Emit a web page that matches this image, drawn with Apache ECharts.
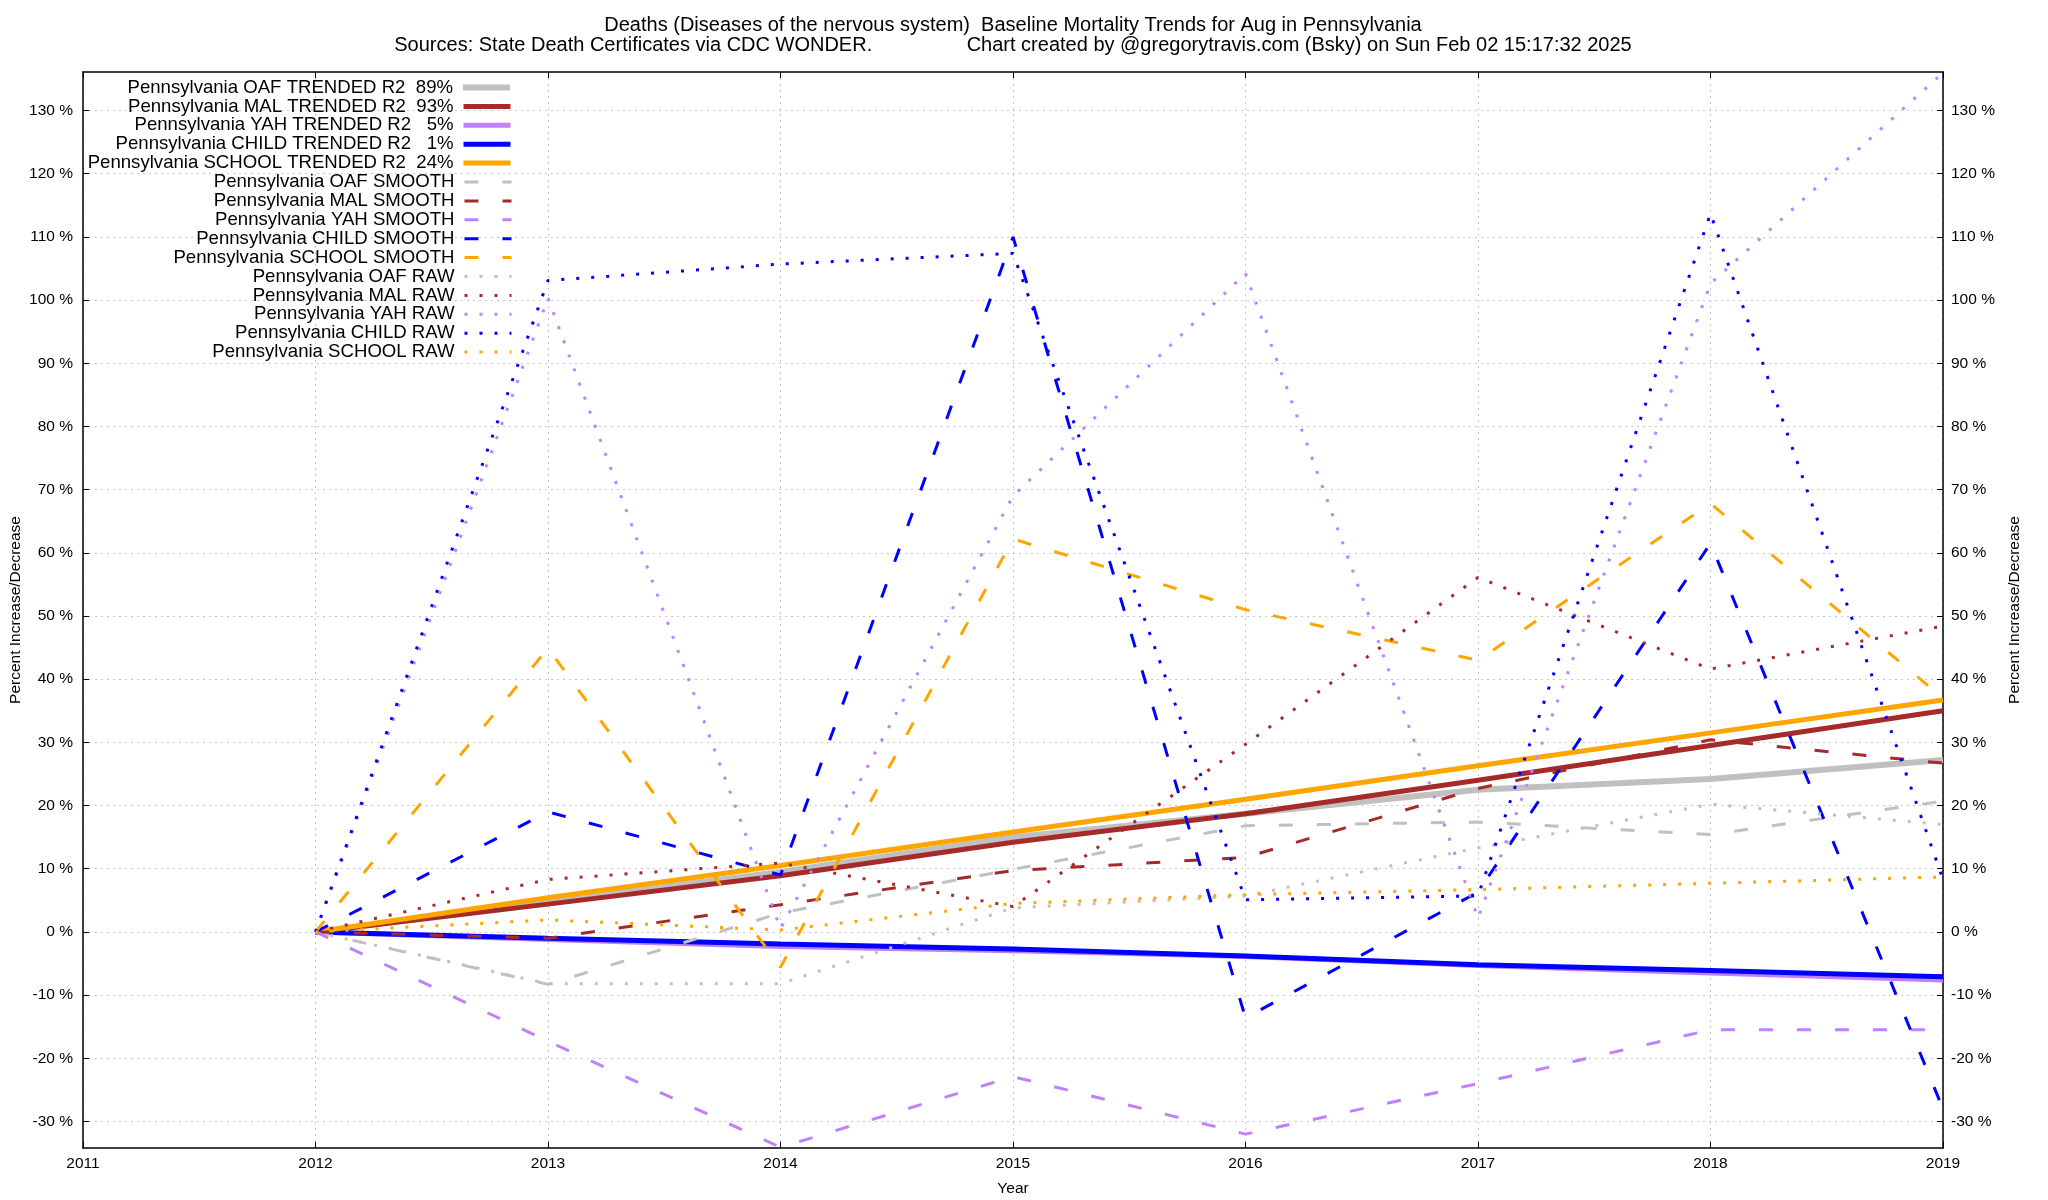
<!DOCTYPE html>
<html>
<head>
<meta charset="utf-8">
<script src="https://cdn.jsdelivr.net/npm/echarts@6/dist/echarts.min.js"></script>
<style>
html,body{margin:0;padding:0;background:#fff;}
#chart{width:2048px;height:1200px;}
</style>
</head>
<body>
<div id="chart"></div>
<script>
var years = [2012, 2013, 2014, 2015, 2016, 2017, 2018, 2019];
var yTicks = [-30, -20, -10, 0, 10, 20, 30, 40, 50, 60, 70, 80, 90, 100, 110, 120, 130];

var oafTrended    = [0, 4.8, 9.5, 15.0, 18.7, 22.5, 24.2, 27.2];
var malTrended    = [0, 4.4, 8.9, 14.2, 18.7, 24.0, 29.5, 35.0];
var yahTrended    = [0, -1.2, -2.3, -3.0, -3.9, -5.3, -6.5, -7.6];
var childTrended  = [0, -1.0, -1.9, -2.7, -3.8, -5.2, -6.1, -7.1];
var schoolTrended = [0, 5.4, 10.5, 15.8, 21.0, 26.3, 31.5, 36.7];

var oafSmooth    = [0, -8.3, 3.0, 9.9, 16.8, 17.4, 15.4, 20.7];
var malSmooth    = [0, -1.0, 4.3, 9.7, 11.8, 22.7, 30.4, 26.7];
var yahSmooth    = [0, -17.3, -34.1, -22.9, -32.0, -24.0, -15.5, -15.5];
var childSmooth  = [0, 19.0, 9.0, 110.0, -13.6, 6.3, 61.5, -28.0];
var schoolSmooth = [0, 44.9, -5.6, 62.2, 51.0, 43.0, 67.8, 37.0];

var oafRaw    = [0, -8.2, -8.2, 3.8, 5.7, 13.3, 20.2, 17.0];
var malRaw    = [0, 8.3, 10.9, 4.0, 29.7, 56.1, 41.6, 48.4];
var yahRaw    = [0, 100.3, 0.5, 69.0, 104.2, 2.2, 102.6, 136.0];
var childRaw  = [0, 103.1, 105.7, 107.4, 5.1, 5.7, 113.7, 8.3];
var schoolRaw = [0, 1.9, 0.3, 4.5, 5.9, 6.7, 7.7, 8.7];

var seriesNames = [
  'Pennsylvania OAF TRENDED R2  89%',
  'Pennsylvania MAL TRENDED R2  93%',
  'Pennsylvania YAH TRENDED R2   5%',
  'Pennsylvania CHILD TRENDED R2   1%',
  'Pennsylvania SCHOOL TRENDED R2  24%',
  'Pennsylvania OAF SMOOTH',
  'Pennsylvania MAL SMOOTH',
  'Pennsylvania YAH SMOOTH',
  'Pennsylvania CHILD SMOOTH',
  'Pennsylvania SCHOOL SMOOTH',
  'Pennsylvania OAF RAW',
  'Pennsylvania MAL RAW',
  'Pennsylvania YAH RAW',
  'Pennsylvania CHILD RAW',
  'Pennsylvania SCHOOL RAW'
];
var seriesValues = [
  oafTrended, malTrended, yahTrended, childTrended, schoolTrended,
  oafSmooth, malSmooth, yahSmooth, childSmooth, schoolSmooth,
  oafRaw, malRaw, yahRaw, childRaw, schoolRaw
];
var palette = ['#c0c0c0', '#a52a2a', '#c080ff', '#0000ff', '#ffa500'];

var FONT = 'Liberation Sans';

function pairs(vals) {
  return years.map(function (y, i) { return [y, vals[i]]; });
}

function styleFor(i) {
  var group = Math.floor(i / 5);
  var color = palette[i % 5];
  if (group === 0) return { color: color, width: (i === 0 ? 6 : 5), type: 'solid', cap: 'butt' };
  if (group === 1) return { color: color, width: 3, type: [14, 24], cap: 'butt' };
  return { color: color, width: 3, type: [3, 12], cap: 'butt' };
}

var series = seriesValues.map(function (vals, i) {
  var color = palette[i % 5];
  return {
    name: seriesNames[i],
    type: 'line',
    data: pairs(vals),
    symbol: 'none',
    showSymbol: false,
    lineStyle: styleFor(i),
    itemStyle: { color: color },
    emphasis: { disabled: true },
    clip: true,
    z: 2 + i
  };
});

var legends = seriesNames.map(function (n, i) {
  var ls = styleFor(i);
  return {
    data: [n],
    orient: 'horizontal',
    align: 'right',
    right: 2048 - 513,
    top: 78 + 18.9 * i,
    padding: 0,
    itemWidth: 47,
    itemHeight: 14,
    selectedMode: false,
    itemStyle: { opacity: 0 },
    lineStyle: { color: ls.color, width: ls.width, type: ls.type, cap: 'butt', opacity: 1 },
    textStyle: { fontFamily: FONT, fontSize: 18.6, color: '#000', padding: [0, 5, 0, 0] }
  };
});

var gridLine = { show: true, lineStyle: { color: '#c8c8c8', width: 1, type: [2, 4] } };
var axisTextStyle = { fontFamily: FONT, fontSize: 15.5, color: '#000' };

var option = {
  animation: false,
  backgroundColor: '#fff',
  title: {
    text: 'Deaths (Diseases of the nervous system)  Baseline Mortality Trends for Aug in Pennsylvania\nSources: State Death Certificates via CDC WONDER.                 Chart created by @gregorytravis.com (Bsky) on Sun Feb 02 15:17:32 2025',
    left: 1013,
    textAlign: 'center',
    top: 15,
    padding: 0,
    textStyle: { fontFamily: FONT, fontSize: 20, fontWeight: 'normal', color: '#000', lineHeight: 20 }
  },
  legend: legends,
  grid: { left: 83, right: 105, top: 72, bottom: 52, containLabel: false, outerBoundsMode: 'none' },
  xAxis: [{
    type: 'value',
    min: 2011, max: 2019, interval: 1,
    position: 'bottom',
    name: 'Year', nameLocation: 'middle', nameGap: 33,
    nameTextStyle: axisTextStyle,
    axisLine: { show: true, onZero: false, lineStyle: { color: '#000', width: 1.5 } },
    axisTick: { show: true, inside: true, length: 6, lineStyle: { color: '#000' } },
    axisLabel: { show: true, margin: 8, formatter: function (v) { return String(v); }, fontFamily: FONT, fontSize: 15.5, color: '#000' },
    splitLine: gridLine
  }, {
    type: 'value',
    min: 2011, max: 2019, interval: 1,
    position: 'top',
    axisLine: { show: true, onZero: false, lineStyle: { color: '#000', width: 1.5 } },
    axisTick: { show: true, inside: true, length: 6, lineStyle: { color: '#000' } },
    axisLabel: { show: false },
    splitLine: { show: false }
  }],
  yAxis: [{
    type: 'value',
    min: -34.2, max: 136.1, splitNumber: 17,
    position: 'left',
    name: 'Percent Increase/Decrease', nameLocation: 'middle', nameGap: 59, nameRotate: 90,
    nameMoveOverlap: false,
    nameTextStyle: axisTextStyle,
    axisLine: { show: true, onZero: false, lineStyle: { color: '#000', width: 1.5 } },
    axisTick: { show: true, inside: true, length: 6, customValues: yTicks, lineStyle: { color: '#000' } },
    axisLabel: { show: true, margin: 10, customValues: yTicks,
      formatter: function (v) { return v + ' %'; }, fontFamily: FONT, fontSize: 15.5, color: '#000' },
    splitLine: gridLine
  }, {
    type: 'value',
    min: -34.2, max: 136.1, splitNumber: 17,
    position: 'right',
    name: 'Percent Increase/Decrease', nameLocation: 'middle', nameGap: 64, nameRotate: 90,
    nameMoveOverlap: false,
    nameTextStyle: axisTextStyle,
    axisLine: { show: true, onZero: false, lineStyle: { color: '#000', width: 1.5 } },
    axisTick: { show: true, inside: true, length: 6, customValues: yTicks, lineStyle: { color: '#000' } },
    axisLabel: { show: true, margin: 8, customValues: yTicks,
      formatter: function (v) { return v + ' %'; }, fontFamily: FONT, fontSize: 15.5, color: '#000' },
    splitLine: { show: false }
  }],
  series: series
};

var chart = echarts.init(document.getElementById('chart'), null, { renderer: 'canvas', width: 2048, height: 1200 });
chart.setOption(option);
</script>
</body>
</html>
